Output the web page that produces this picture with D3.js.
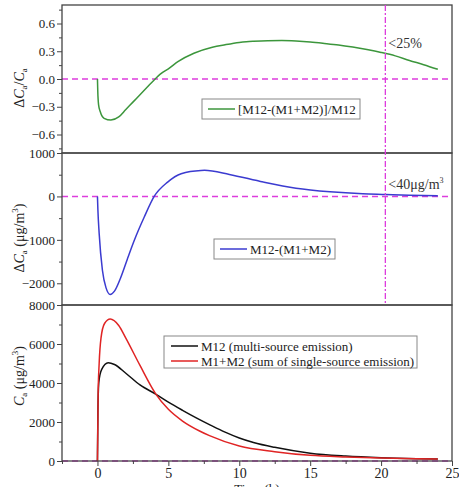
<!DOCTYPE html>
<html>
<head>
<meta charset="utf-8">
<script src="https://cdn.jsdelivr.net/npm/d3@7"></script>
<style>
  body { margin: 0; background: #fff; }
  svg text { font-family: "Liberation Serif", "Times New Roman", Times, "DejaVu Serif", serif !important; }
</style>
</head>
<body>
<svg></svg>
<script>
const WIDTH = 459;
const HEIGHT = 487;
const LEFT = 62;
const RIGHT = 452;

// time (h) and values
const ratioT   = [0, 0.02, 0.08, 0.2, 0.47, 0.95, 1.5, 2, 2.5, 3, 3.5, 4, 4.5, 5, 5.7, 6.8, 8.1, 9, 10, 10.5, 11, 12, 13, 14, 15, 16, 17, 18, 19, 20, 21, 22, 23, 24];
const ratioVal = [0, -0.12, -0.28, -0.355, -0.425, -0.444, -0.41, -0.33, -0.25, -0.17, -0.09, -0.01, 0.06, 0.11, 0.19, 0.278, 0.343, 0.37, 0.395, 0.403, 0.408, 0.414, 0.415, 0.41, 0.40, 0.385, 0.368, 0.345, 0.318, 0.287, 0.25, 0.20, 0.155, 0.105];

const diffT   = [0, 0.03, 0.12, 0.35, 0.6, 0.9, 1.2, 1.65, 2.1, 2.6, 3.3, 4, 4.95, 5.9, 7.3, 7.55, 9.3, 11.7, 14, 16.4, 18.7, 20.3, 22, 24];
const diffVal = [0, -300, -850, -1700, -2100, -2257, -2180, -1860, -1450, -1010, -475, 0, 330, 522, 598, 600, 507, 330, 190, 108, 62, 46, 28, 15];

const concT   = [0, 0.03, 0.1, 0.3, 0.76, 1.2, 2, 3, 4.13, 5, 6, 7, 8, 9, 10, 11, 12.5, 15, 17.5, 20, 22.5, 24];
const m12Val  = [0, 2500, 4070, 4700, 5040, 4950, 4500, 3900, 3420, 3020, 2600, 2200, 1830, 1480, 1180, 950, 700, 400, 255, 170, 120, 100];
const sumT    = [0, 0.05, 0.12, 0.25, 0.5, 0.9, 1.5, 2, 3, 4.13, 5, 6, 7.2, 7.9, 10, 12.5, 15, 17.5, 20, 22.5, 24];
const sumVal  = [0, 3500, 5000, 6300, 7050, 7280, 6950, 6300, 4900, 3420, 2650, 2050, 1540, 1300, 770, 480, 290, 205, 150, 115, 100];

const xTicks = [0, 5, 10, 15, 20, 25];
const cutTime = 20.3;

const svg = d3.select("svg").attr("width", WIDTH).attr("height", HEIGHT);

const x = d3.scaleLinear().domain([-2.5, 25]).range([LEFT, RIGHT]);

const MAGENTA = "#dd3ddd";
const FRAME = "#444";

function zip(ts, vs) {
    return ts.map((t, i) => ({ t: t, v: vs[i] }));
}

function drawPanel(opt) {
    const y = d3.scaleLinear().domain(opt.domain).range([opt.bottom, opt.top]);
    const g = svg.append("g");

    // zero line
    g.append("line")
        .attr("x1", LEFT).attr("x2", RIGHT)
        .attr("y1", y(0)).attr("y2", y(0))
        .attr("stroke", MAGENTA).attr("stroke-width", 1.5)
        .attr("stroke-dasharray", "6,4");

    const line = d3.line()
        .x(d => x(d.t))
        .y(d => y(d.v))
        .curve(d3.curveMonotoneX);

    opt.series.forEach(s => {
        g.append("path")
            .attr("d", line(s.data))
            .attr("fill", "none")
            .attr("stroke", s.color)
            .attr("stroke-width", 1.5);
    });

    // minor y ticks
    const yMinor = d3.axisLeft(y).tickValues(opt.minor).tickSize(3).tickFormat("");
    g.append("g").attr("transform", `translate(${LEFT},0)`).call(yMinor)
        .call(a => a.select(".domain").remove())
        .selectAll("line").attr("stroke", FRAME);

    const yAxis = d3.axisLeft(y).tickValues(opt.ticks).tickSize(5).tickPadding(2).tickFormat(opt.fmt);
    const ya = g.append("g").attr("transform", `translate(${LEFT},0)`).call(yAxis);
    ya.select(".domain").remove();
    ya.selectAll("line").attr("stroke", FRAME);
    ya.selectAll("text").attr("font-size", 13).attr("fill", "#222");

    // frame
    g.append("rect")
        .attr("x", LEFT).attr("y", opt.top)
        .attr("width", RIGHT - LEFT).attr("height", opt.bottom - opt.top)
        .attr("fill", "none").attr("stroke", FRAME).attr("stroke-width", 1.3);

    // legend
    const lg = g.append("g");
    lg.append("rect")
        .attr("x", opt.legend.x).attr("y", opt.legend.y)
        .attr("width", opt.legend.w).attr("height", opt.legend.h)
        .attr("fill", "#fff").attr("stroke", "#888").attr("stroke-width", 1);
    opt.series.forEach((s, i) => {
        const ry = opt.legend.y + opt.legend.row0 + i * 15;
        lg.append("line")
            .attr("x1", opt.legend.x + opt.legend.lx0).attr("x2", opt.legend.x + opt.legend.lx1)
            .attr("y1", ry).attr("y2", ry)
            .attr("stroke", s.color).attr("stroke-width", 1.5);
        lg.append("text")
            .attr("x", opt.legend.x + opt.legend.lx1 + 3).attr("y", ry + 4.5)
            .attr("font-size", 13).attr("fill", "#222")
            .text(s.name);
    });

    // y title
    const tt = g.append("text")
        .attr("transform", `translate(${opt.titleX},${opt.titleY}) rotate(-90)`)
        .attr("text-anchor", "middle")
        .attr("font-size", 14).attr("fill", "#222");
    opt.title(tt);

    return y;
}

const y1 = drawPanel({
    top: 5, bottom: 153, domain: [-0.8, 0.8],
    ticks: [-0.6, -0.3, 0, 0.3, 0.6], minor: [-0.75, -0.45, -0.15, 0.15, 0.45, 0.75],
    fmt: d3.format(".1f"),
    series: [{ name: "[M12-(M1+M2)]/M12", color: "#3c963c", data: zip(ratioT, ratioVal) }],
    legend: { x: 202, y: 99, w: 158, h: 20, row0: 10, lx0: 6, lx1: 33 },
    titleX: 24, titleY: 88,
    title: t => {
        t.append("tspan").text("\u0394");
        t.append("tspan").attr("font-style", "italic").text("C");
        t.append("tspan").attr("font-size", 9).attr("dy", 3).text("a");
        t.append("tspan").attr("dy", -3).text("/");
        t.append("tspan").attr("font-style", "italic").text("C");
        t.append("tspan").attr("font-size", 9).attr("dy", 3).text("a");
    }
});

const y2 = drawPanel({
    top: 153, bottom: 305, domain: [-2500, 1000],
    ticks: [-2000, -1000, 0, 1000], minor: [-2500, -1500, -500, 500],
    fmt: d3.format("d"),
    series: [{ name: "M12-(M1+M2)", color: "#3b3bd0", data: zip(diffT, diffVal) }],
    legend: { x: 214, y: 239, w: 121, h: 20, row0: 10, lx0: 6, lx1: 33 },
    titleX: 24, titleY: 238,
    title: t => {
        t.append("tspan").text("\u0394");
        t.append("tspan").attr("font-style", "italic").text("C");
        t.append("tspan").attr("font-size", 9).attr("dy", 3).text("a");
        t.append("tspan").attr("dy", -3).text(" (\u03bcg/m");
        t.append("tspan").attr("font-size", 9).attr("dy", -6).text("3");
        t.append("tspan").attr("dy", 6).text(")");
    }
});

const y3 = drawPanel({
    top: 305, bottom: 461, domain: [0, 8000],
    ticks: [0, 2000, 4000, 6000, 8000], minor: [1000, 3000, 5000, 7000],
    fmt: d3.format("d"),
    series: [
        { name: "M12 (multi-source emission)", color: "#111", data: zip(concT, m12Val) },
        { name: "M1+M2 (sum of single-source emission)", color: "#e02424", data: zip(sumT, sumVal) }
    ],
    legend: { x: 164, y: 336, w: 253, h: 32, row0: 10, lx0: 7, lx1: 34 },
    titleX: 24, titleY: 376,
    title: t => {
        t.append("tspan").attr("font-style", "italic").text("C");
        t.append("tspan").attr("font-size", 9).attr("dy", 3).text("a");
        t.append("tspan").attr("dy", -3).text(" (\u03bcg/m");
        t.append("tspan").attr("font-size", 9).attr("dy", -6).text("3");
        t.append("tspan").attr("dy", 6).text(")");
    }
});

// x axis on bottom panel
const xMinor = d3.axisBottom(x).tickValues([-2.5, 2.5, 7.5, 12.5, 17.5, 22.5]).tickSize(3).tickFormat("");
svg.append("g").attr("transform", "translate(0,461)").call(xMinor)
    .call(a => a.select(".domain").remove())
    .selectAll("line").attr("stroke", FRAME);
const xa = svg.append("g").attr("transform", "translate(0,461)")
    .call(d3.axisBottom(x).tickValues(xTicks).tickSize(5).tickPadding(2).tickFormat(d3.format("d")));
xa.select(".domain").remove();
xa.selectAll("line").attr("stroke", FRAME);
xa.selectAll("text").attr("font-size", 14).attr("fill", "#222");

svg.append("text")
    .attr("x", 257).attr("y", 493)
    .attr("text-anchor", "middle")
    .attr("font-size", 13).attr("fill", "#222")
    .text("Time (h)");

// vertical cut line
svg.append("line")
    .attr("x1", x(cutTime)).attr("x2", x(cutTime))
    .attr("y1", 5).attr("y2", 305)
    .attr("stroke", MAGENTA).attr("stroke-width", 1.3)
    .attr("stroke-dasharray", "6,2,2,2");

svg.append("text")
    .attr("x", x(cutTime) + 3).attr("y", y1(0.33))
    .attr("font-size", 14).attr("fill", "#333")
    .text("<25%");

const ann = svg.append("text")
    .attr("x", x(cutTime) + 3).attr("y", y2(180))
    .attr("font-size", 14).attr("fill", "#333");
ann.append("tspan").text("<40\u03bcg/m");
ann.append("tspan").attr("font-size", 8).attr("dy", -6).text("3");
</script>
</body>
</html>
